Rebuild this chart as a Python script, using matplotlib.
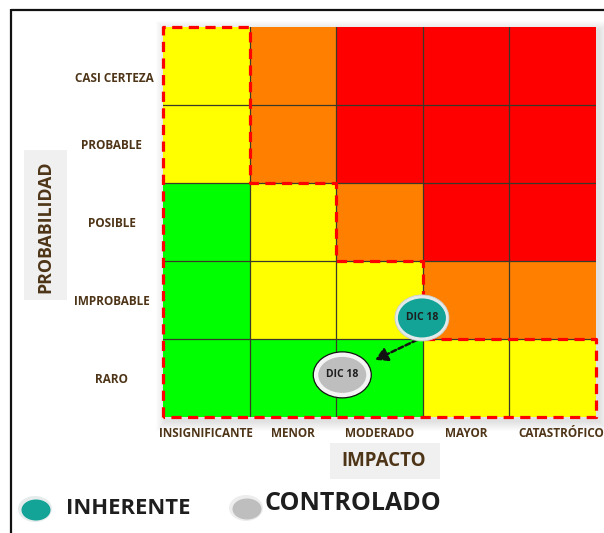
import matplotlib
matplotlib.use("Agg")
import matplotlib.pyplot as plt
from matplotlib.patches import Rectangle, Ellipse
from matplotlib.colors import ListedColormap
from matplotlib.transforms import ScaledTranslation
import numpy as np

# ---------------- data ----------------
impacto = ["INSIGNIFICANTE", "MENOR", "MODERADO", "MAYOR", "CATASTRÓFICO"]
probabilidad = ["RARO", "IMPROBABLE", "POSIBLE", "PROBABLE", "CASI CERTEZA"]
# risk level of each cell (0 green, 1 yellow, 2 orange, 3 red), rows RARO -> CASI CERTEZA
nivel = [
    [0, 0, 0, 1, 1],
    [0, 1, 1, 2, 2],
    [0, 1, 2, 3, 3],
    [1, 2, 3, 3, 3],
    [1, 2, 3, 3, 3],
]
nivel_colores = ["#00FF00", "#FFFF00", "#FF8000", "#FF0000"]
# limit of the acceptable zone (column / row boundaries)
limite_x = [0, 0, 1, 1, 2, 2, 3, 3, 5, 5, 0]
limite_y = [0, 5, 5, 3, 3, 2, 2, 1, 1, 0, 0]

series = ["INHERENTE", "CONTROLADO"]
serie_impacto = [2.99, 2.07]
serie_prob = [1.27, 0.54]
serie_etiqueta = ["DIC 18", "DIC 18"]

# ---------------- style ----------------
W, H = 604, 533
FONT = ["Open Sans", "DejaVu Sans"]
BROWN = "#4E3518"
TEAL = "#13A397"
GREY = "#BEBEBE"

fig = plt.figure(figsize=(W / 100, H / 100), dpi=100)
bg = fig.add_axes([0, 0, 1, 1])
bg.set_xlim(0, W)
bg.set_ylim(H, 0)
bg.axis("off")

# frame
bg.plot([11, 11], [9, H], color="#111111", lw=1.6, solid_capstyle="butt")
bg.plot([11, W], [9.5, 9.5], color="#111111", lw=1.6, solid_capstyle="butt")

# soft shadow around the grid
gx0, gy0, gw, gh = 163, 27, 433, 390
for s in range(1, 11):
    bg.add_patch(Rectangle((gx0 - s + 3, gy0 - s + 4), gw + 2 * s, gh + 2 * s,
                           facecolor="black", edgecolor="none", alpha=0.011))

# axis title boxes
bg.add_patch(Rectangle((24, 150), 43, 150, facecolor="#F0F0F0", edgecolor="none"))
bg.text(45.5, 227, "PROBABILIDAD", rotation=90, ha="center", va="center",
        fontsize=12.8, fontweight="bold", color=BROWN, family=FONT)
bg.add_patch(Rectangle((330, 443), 110, 36, facecolor="#F0F0F0", edgecolor="none"))
bg.text(384, 461, "IMPACTO", ha="center", va="center",
        fontsize=13.5, fontweight="bold", color=BROWN, family=FONT)

# legend
bg.add_patch(Ellipse((35, 509), 34, 26, facecolor="#E6ECEC", edgecolor="none"))
bg.add_patch(Ellipse((36, 510), 29, 21, facecolor=TEAL, edgecolor="none"))
bg.text(66, 509, series[0], ha="left", va="center", fontsize=15.8,
        fontweight="bold", color="#1E1E1E", family=FONT)
bg.add_patch(Ellipse((246, 508), 34, 26, facecolor="#EDEDED", edgecolor="none"))
bg.add_patch(Ellipse((247, 509), 29, 21, facecolor=GREY, edgecolor="none"))
bg.text(265, 504, series[1], ha="left", va="center", fontsize=18,
        fontweight="bold", color="#1E1E1E", family=FONT)

# ---------------- matrix ----------------
ax = fig.add_axes([gx0 / W, 1 - (gy0 + gh) / H, gw / W, gh / H])
ax.set_xlim(0, 5)
ax.set_ylim(0, 5)
cmap = ListedColormap(nivel_colores)
ax.pcolormesh(np.arange(6), np.arange(6), np.array(nivel), cmap=cmap,
              vmin=-0.5, vmax=3.5, shading="flat")
for k in range(1, 5):
    ax.axvline(k, color="#3A3A2A", lw=0.9, zorder=2)
    ax.axhline(k, color="#3A3A2A", lw=0.9, zorder=2)
for sp in ax.spines.values():
    sp.set_visible(False)

ax.set_xticks(np.arange(5) + 0.5)
ax.set_xticklabels(impacto, fontsize=8.5, fontweight="bold", color=BROWN, family=FONT)
ax.set_yticks(np.arange(5) + 0.5)
ax.set_yticklabels(probabilidad, fontsize=8.5, fontweight="bold", color=BROWN,
                   family=FONT, ha="center")
ax.tick_params(axis="x", length=0, pad=7)
ax.tick_params(axis="y", length=0, pad=37)
# small label offsets seen in the reference
top_lbl = ax.get_yticklabels()[-1]
top_lbl.set_transform(top_lbl.get_transform()
                      + ScaledTranslation(0.03, -0.11, fig.dpi_scale_trans))
last_x = ax.get_xticklabels()[-1]
last_x.set_transform(last_x.get_transform()
                     + ScaledTranslation(0.09, 0, fig.dpi_scale_trans))

# acceptable-zone outline
ax.plot(limite_x, limite_y, color="#FF0000", lw=2.3, dashes=(3.2, 2.0),
        clip_on=False, zorder=3, solid_joinstyle="miter")

# points
sx, sy = 1 / 86.6, 1 / 78.0  # px -> data
ix, iy = serie_impacto[0], serie_prob[0]
cx, cy = serie_impacto[1], serie_prob[1]

# arrow from inherent to controlled
ax.annotate("", xy=(cx + 33 * sx, cy + 15 * sy), xytext=(ix - 5 * sx, iy - 22 * sy),
            arrowprops=dict(arrowstyle="-|>,head_length=0.6,head_width=0.35",
                            color="#111111", lw=1.8,
                            linestyle=(0, (2.0, 1.1)), mutation_scale=12,
                            shrinkA=0, shrinkB=0), zorder=5)

ax.add_patch(Ellipse((ix, iy), 54 * sx, 46 * sy, facecolor="#E4EAEA",
                     edgecolor="#C8CFCF", lw=0.6, zorder=6))
ax.add_patch(Ellipse((ix, iy), 48 * sx, 39 * sy, facecolor=TEAL,
                     edgecolor="none", zorder=7))
ax.text(ix, iy, serie_etiqueta[0], ha="center", va="center", fontsize=7.5,
        fontweight="bold", color="#1E1E1E", family=FONT, zorder=8)

ax.add_patch(Ellipse((cx, cy), 58 * sx, 46 * sy, facecolor="#F4F4F4",
                     edgecolor="#111111", lw=0.9, zorder=6))
ax.add_patch(Ellipse((cx, cy), 48 * sx, 36 * sy, facecolor=GREY,
                     edgecolor="none", zorder=7))
ax.text(cx, cy, serie_etiqueta[1], ha="center", va="center", fontsize=7.5,
        fontweight="bold", color="#1E1E1E", family=FONT, zorder=8)

fig.savefig("out.png", dpi=100)
